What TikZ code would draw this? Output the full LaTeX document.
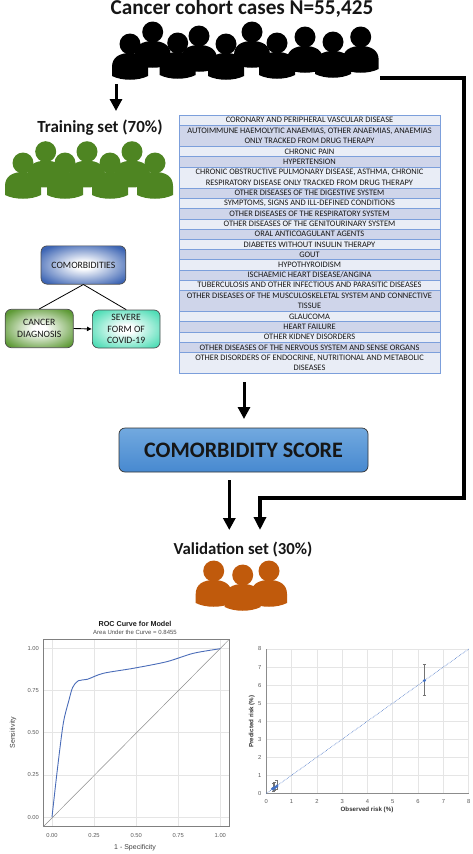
\documentclass[tikz,border=0pt]{standalone}
\usepackage{fontspec}
\usepackage{xcolor}
\usetikzlibrary{arrows.meta}
\setmainfont{Carlito}
\newfontfamily\plotfont{Liberation Sans}

\definecolor{rowlight}{HTML}{E9EDF6}
\definecolor{rowdark}{HTML}{CFD5EA}
\definecolor{rowline}{HTML}{7C9FDB}
\definecolor{trainingreen}{HTML}{4E8522}
\definecolor{validorange}{HTML}{C05A0C}
\definecolor{textblack}{HTML}{161616}
\definecolor{scoretop}{HTML}{72A9DF}
\definecolor{scorebottom}{HTML}{4789D0}
\definecolor{comorbedge}{HTML}{3D65B4}
\definecolor{canceredge}{HTML}{5E9A36}
\definecolor{severeedge}{HTML}{4FDDB6}
\definecolor{rocblue}{HTML}{4A6CB8}
\definecolor{calblue}{HTML}{4472C4}

\pgfdeclareradialshading{softcomorb}{\pgfpoint{0bp}{0bp}}{color(0bp)=(white); color(5bp)=(white); color(31bp)=(comorbedge); color(50bp)=(comorbedge)}
\pgfdeclareradialshading{softcancer}{\pgfpoint{0bp}{0bp}}{color(0bp)=(white); color(5bp)=(white); color(31bp)=(canceredge); color(50bp)=(canceredge)}
\pgfdeclareradialshading{softsevere}{\pgfpoint{0bp}{0bp}}{color(0bp)=(white); color(5bp)=(white); color(31bp)=(severeedge); color(50bp)=(severeedge)}

\tikzset{
  bigarrow/.style={draw=black, line width=3pt, -{Triangle[length=12pt,width=12pt]}},
  rowbox/.style={draw=rowline, line width=0.6pt, minimum width=261pt, inner sep=0pt, align=center, font=\fontsize{8.4}{10.4}\selectfont, text=textblack},
  smallbox/.style={draw=black!70, line width=0.7pt, rounded corners=6pt, inner sep=0pt, align=center, text=textblack, font=\fontsize{9.7}{11.5}\selectfont},
  plottick/.style={font=\plotfont\fontsize{5.8}{7}\selectfont, text=black!65, inner sep=0pt},
  gridline/.style={draw=black!10, line width=0.7pt}
}

% one figure: head centre is #1,#2
\newcommand{\personfig}[3]{
  \fill[#3] (#1,#2) circle (10.5);
  \fill[#3] (#1-18,#2+32) -- (#1-18,#2+23) .. controls (#1-18,#2+13) and (#1-10,#2+9) .. (#1,#2+9)
    .. controls (#1+10,#2+9) and (#1+18,#2+13) .. (#1+18,#2+23) -- (#1+18,#2+32)
    .. controls (#1+8,#2+37) and (#1-8,#2+37) .. (#1-18,#2+32) -- cycle;
}

\begin{document}
\begin{tikzpicture}[x=1pt,y=-1pt]
  \useasboundingbox (0,0) rectangle (472,854);

  \node[anchor=base, inner sep=0pt, text=textblack] (cohorttitle) at (242,14.5) {\fontsize{21.2}{24}\selectfont\bfseries Cancer cohort cases N=55,425};
  \foreach \px/\py in {130/44,177.7/43,226/44,277/43,152.7/32,199/36,252/32,305/37,360.7/37,333/42} {
    \personfig{\px}{\py}{black}
  }

  \node[anchor=base, inner sep=0pt, text=textblack] (trainingtitle) at (100,132) {\fontsize{17}{20}\selectfont\bfseries Training set (70\%)};
  \foreach \px in {45.7,87,132} {
    \personfig{\px}{151.7}{trainingreen}
  }
  \foreach \px in {23,65,110,155} {
    \personfig{\px}{163}{trainingreen}
  }

  % comorbidity list
  \foreach \n/\yy/\hh/\colr/\txt in {
    1/115/10.5/rowlight/{CORONARY AND PERIPHERAL VASCULAR DISEASE},
    2/125.5/21/rowdark/{AUTOIMMUNE HAEMOLYTIC ANAEMIAS, OTHER ANAEMIAS, ANAEMIAS\\ONLY TRACKED FROM DRUG THERAPY},
    3/146.5/10.2/rowlight/{CHRONIC PAIN},
    4/156.7/10.3/rowdark/{HYPERTENSION},
    5/167/21/rowlight/{CHRONIC OBSTRUCTIVE PULMONARY DISEASE, ASTHMA, CHRONIC\\RESPIRATORY DISEASE ONLY TRACKED FROM DRUG THERAPY},
    6/188/10.3/rowdark/{OTHER DISEASES OF THE DIGESTIVE SYSTEM},
    7/198.3/10.4/rowlight/{SYMPTOMS, SIGNS AND ILL-DEFINED CONDITIONS},
    8/208.7/10.3/rowdark/{OTHER DISEASES OF THE RESPIRATORY SYSTEM},
    9/219/10.2/rowlight/{OTHER DISEASES OF THE GENITOURINARY SYSTEM},
    10/229.2/10.2/rowdark/{ORAL ANTICOAGULANT AGENTS},
    11/239.4/10/rowlight/{DIABETES WITHOUT INSULIN THERAPY},
    12/249.4/10.3/rowdark/{GOUT},
    13/259.7/10.3/rowlight/{HYPOTHYROIDISM},
    14/270/10.2/rowdark/{ISCHAEMIC HEART DISEASE/ANGINA},
    15/280.2/10.2/rowlight/{TUBERCULOSIS AND OTHER INFECTIOUS AND PARASITIC DISEASES},
    16/290.4/21/rowdark/{OTHER DISEASES OF THE MUSCULOSKELETAL SYSTEM AND CONNECTIVE\\TISSUE},
    17/311.4/10.3/rowlight/{GLAUCOMA},
    18/321.7/10.3/rowdark/{HEART FAILURE},
    19/332/10.2/rowlight/{OTHER KIDNEY DISORDERS},
    20/342.2/10.2/rowdark/{OTHER DISEASES OF THE NERVOUS SYSTEM AND SENSE ORGANS},
    21/352.4/21/rowlight/{OTHER DISORDERS OF ENDOCRINE, NUTRITIONAL AND METABOLIC\\DISEASES}} {
    \node[rowbox, fill=\colr, minimum height=\hh pt] (row\n) at (309.5,\yy+\hh/2) {\txt};
  }

  % small causal diagram
  \node[smallbox, minimum width=84.7pt, minimum height=38.3pt, shading=softcomorb] (comorb) at (83.4,265) {COMORBIDITIES};
  \node[smallbox, minimum width=68pt, minimum height=38.4pt, shading=softcancer] (cancer) at (39.3,328.5) {CANCER\\DIAGNOSIS};
  \node[smallbox, minimum width=67.7pt, minimum height=38pt, shading=softsevere] (severe) at (126.2,329) {SEVERE\\FORM OF\\COVID-19};
  \draw[black, line width=0.8pt] (comorb.south) -- (cancer.north);
  \draw[black, line width=0.8pt] (comorb.south) -- (severe.north);
  \draw[black, line width=0.9pt, -{Latex[length=5pt,width=5pt]}] (cancer.east) -- (severe.west);

  % score and validation
  \node[draw=black!80, line width=0.7pt, rounded corners=6pt, minimum width=249pt, minimum height=44pt, inner sep=0pt, top color=scoretop, bottom color=scorebottom, text=textblack] (score) at (243.5,450) {\fontsize{22.1}{26}\selectfont\bfseries COMORBIDITY SCORE};
  \node[anchor=base, inner sep=0pt, text=textblack] (validtitle) at (243,554) {\fontsize{16.8}{18}\selectfont\bfseries Validation set (30\%)};
  \personfig{213.7}{571}{validorange}
  \personfig{269}{571}{validorange}
  \personfig{242.7}{575}{validorange}

  \coordinate (cohortdown) at (116,84);
  \coordinate (trainingin) at (116,111);
  \coordinate (listout) at (244,382);
  \coordinate (scorein) at (244,419);
  \coordinate (scoreout) at (229.3,480);
  \coordinate (validin) at (229.3,530);
  \coordinate (cohortout) at (380,78);
  \coordinate (validright) at (260,530);
  \draw[bigarrow] (cohortdown) -- (trainingin);
  \draw[bigarrow] (listout) -- (scorein);
  \draw[bigarrow] (scoreout) -- (validin);
  \draw[bigarrow, line width=3.8pt, -{Triangle[length=13pt,width=12pt]}] (cohortout) -- (464,78) -- (464,498) -- (260,498) -- (validright);

  % ROC plot
  \foreach \tt/\lab in {0/0.00,1/0.25,2/0.50,3/0.75,4/1.00} {
    \draw[gridline] (52+\tt*42.08,639.3) -- (52+\tt*42.08,826.7);
    \draw[gridline] (43.3,817-\tt*42.08) -- (229.3,817-\tt*42.08);
    \node[plottick] (rocx\tt) at (52+\tt*42.08,835.7) {\lab};
    \node[plottick, anchor=east] (rocy\tt) at (39,817-\tt*42.08) {\lab};
  }
  \draw[black!50, line width=0.9pt] (43.3,639.3) rectangle (229.3,826.7);
  \draw[black!45, line width=0.5pt] (43.3,826.7) -- (229.3,639.3);
  \draw[rocblue, line width=0.9pt] plot[smooth, tension=0.5] coordinates {(52,817) (57.3,770) (63.3,723.3) (69,700) (72.7,687.3) (78.3,680.7) (87.3,679.3) (103.3,673.3) (133.3,668.3) (166.7,661.7) (193.3,653.3) (220.3,648.7)};
  \node[inner sep=0pt, text=black!90] (roctitle) at (135,624) {\plotfont\fontsize{7.2}{9}\selectfont\bfseries ROC Curve for Model};
  \node[inner sep=0pt, text=black!70] (rocsub) at (135,632.7) {\plotfont\fontsize{6}{8}\selectfont Area Under the Curve = 0.8455};
  \node[inner sep=0pt, text=black!75] (rocxlab) at (135,848) {\plotfont\fontsize{7}{8}\selectfont 1 - Specificity};
  \node[inner sep=0pt, text=black!75, rotate=90] (rocylab) at (13,732.7) {\plotfont\fontsize{7}{8}\selectfont Sensitivity};

  % calibration plot
  \foreach \tt in {0,...,8} {
    \draw[gridline] (266.3+\tt*25.3,649) -- (266.3+\tt*25.3,793.3);
    \draw[gridline] (266.3,793.3-\tt*18.04) -- (468.7,793.3-\tt*18.04);
    \node[plottick] (calx\tt) at (266.3+\tt*25.3,801.3) {\tt};
    \node[plottick, anchor=east] (caly\tt) at (261.5,793.3-\tt*18.04) {\tt};
  }
  \draw[black!45, line width=0.6pt] (266.3,649) -- (266.3,793.3) -- (468.7,793.3);
  \draw[calblue, line width=0.6pt, densely dotted] (266.3,793.3) -- (468.7,649);
  \foreach \ox/\lo/\hi in {6.25/5.45/7.15,0.28/0.12/0.55,0.33/0.17/0.6,0.42/0.2/0.7} {
    \draw[black!55, line width=0.6pt] (266.3+\ox*25.3-1.5,793.3-\lo*18.04) -- (266.3+\ox*25.3+1.5,793.3-\lo*18.04);
    \draw[black!55, line width=0.6pt] (266.3+\ox*25.3-1.5,793.3-\hi*18.04) -- (266.3+\ox*25.3+1.5,793.3-\hi*18.04);
    \draw[black!55, line width=0.6pt] (266.3+\ox*25.3,793.3-\lo*18.04) -- (266.3+\ox*25.3,793.3-\hi*18.04);
  }
  \foreach \ox/\oy in {6.25/6.25,0.25/0.25,0.3/0.28,0.35/0.33,0.42/0.4} {
    \fill[calblue] (266.3+\ox*25.3,793.3-\oy*18.04) circle (1.7);
  }
  \node[inner sep=0pt, text=black!80] (calxlab) at (367,810.3) {\plotfont\fontsize{6.2}{8}\selectfont\bfseries Observed risk (\%)};
  \node[inner sep=0pt, text=black!80, rotate=90] (calylab) at (251.7,721.7) {\plotfont\fontsize{6.2}{8}\selectfont\bfseries Predicted risk (\%)};
\end{tikzpicture}
\end{document}
